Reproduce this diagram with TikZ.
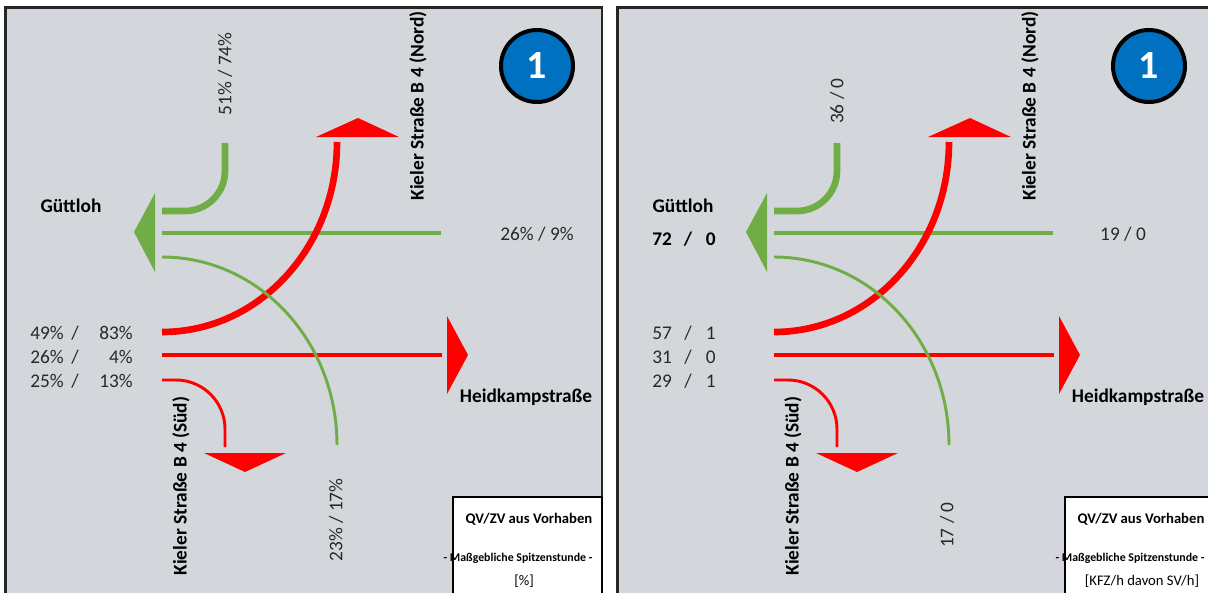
\documentclass[tikz,border=0pt]{standalone}
\usepackage{fontspec}
\setmainfont{Carlito}
\definecolor{panelgray}{RGB}{211,215,220}
\definecolor{flowgreen}{RGB}{112,173,71}
\definecolor{flowred}{RGB}{255,0,0}
\definecolor{numblue}{RGB}{0,112,192}
\definecolor{txtgray}{RGB}{40,40,40}
\tikzset{
	panel/.style={draw=black!85, line width=1.9pt, fill=panelgray},
	flowthick/.style={line width=5pt},
	flowmid/.style={line width=2.8pt},
	flowthin/.style={line width=2.2pt},
	lbl/.style={text=txtgray, inner sep=0pt, font=\fontsize{14.5}{17}\selectfont},
	roadname/.style={text=black, inner sep=0pt, font=\bfseries\fontsize{14.5}{17}\selectfont},
	numcirc/.style={circle, draw=black, line width=3pt, fill=numblue, minimum size=54pt,
		inner sep=0pt, text=white, font=\bfseries\fontsize{30}{30}\selectfont},
	legendbox/.style={draw=black, line width=1.5pt, fill=white},
	legtitle/.style={inner sep=0pt, font=\bfseries\fontsize{11}{13}\selectfont},
	legsub/.style={inner sep=0pt, font=\bfseries\fontsize{8.9}{11}\selectfont},
	legunit/.style={inner sep=0pt, font=\fontsize{11}{13}\selectfont}
}

\begin{document}
\begin{tikzpicture}[x=0.75pt, y=-0.75pt]
	
	\useasboundingbox (0,0) rectangle (1208,593);
	\clip (0,0) rectangle (1208,593);
	\fill[white] (0,0) rectangle (1208,593);
	
	% PANELS
	\draw[panel] (5.5,7.5) rectangle (602,600);
	\draw[panel] (617.5,7.5) rectangle (1225,600);
	
	% FLOWS, same in both panels
	\foreach \dx/\p in {0/L, 612/R}{
		\begin{scope}[shift={(\dx,0)}]
			% towards Güttloh
			\draw[flowgreen, flowmid] (162,233) -- (441,233);
			% from Güttloh
			\draw[flowred, flowthick] (162,332)
				.. controls (259,332) and (337,247) .. (337,142);
			\draw[flowred, flowmid] (162,355) -- (442,355);
			\draw[flowred, flowthin] (162,380) -- (176,380)
				.. controls (203,380) and (225,402) .. (225,429) -- (225,447);
			\draw[flowgreen, flowthin] (162,257)
				.. controls (259,257) and (337,341) .. (337,445);
			\draw[flowgreen, flowthick] (225,143) -- (225,171)
				.. controls (225,193) and (207,211) .. (185,211) -- (162,211);
			
			% Arrow heads
			\fill[flowgreen] (134,232) -- (155,193) -- (155,272) -- cycle;
			\fill[flowred] (358,118) -- (399,137) -- (316,137) -- cycle;
			\fill[flowred] (468,355) -- (447,394) -- (447,316) -- cycle;
			\fill[flowred] (245,472) -- (204,453) -- (286,453) -- cycle;
			
			% Node number
			\node[numcirc] (num\p) at (537,66) {1};
			
			% Road names
			\node[roadname] (west\p) at (71,206) {Güttloh};
			\node[roadname, rotate=90] (north\p) at (418,106) {Kieler Straße B 4 (Nord)};
			\node[roadname, rotate=90] (south\p) at (181,486) {Kieler Straße B 4 (Süd)};
			\node[roadname] (east\p) at (526,397) {Heidkampstraße};
			
			% Legend
			\draw[legendbox] (453,497) rectangle (602,600);
			\node[legtitle] (legT\p) at (529,519) {QV/ZV aus Vorhaben};
			\node[legsub] (legS\p) at (518,558) {- Maßgebliche Spitzenstunde -};
		\end{scope}
	}
	
	% VALUES in percent
	\node[lbl, rotate=90] (pctN) at (225,74) {51\% / 74\%};
	\node[lbl] (pctE) at (537,234) {26\% / 9\%};
	\node[lbl, rotate=90] (pctS) at (336,520) {23\% / 17\%};
	\foreach \y/\a/\b [count=\i] in {339/49/83, 363/26/4, 387/25/13}{
		\node[lbl, anchor=base west] (pctWa\i) at (30,\y) {\a\%};
		\node[lbl, anchor=base] (pctWs\i) at (75,\y) {/};
		\node[lbl, anchor=base east] (pctWb\i) at (133,\y) {\b\%};
	}
	\node[legunit] (unitL) at (524,581) {[\%]};
	
	% VALUES in KFZ/h
	\node[lbl, rotate=90] (kfzN) at (837,101) {36 / 0};
	\node[lbl] (kfzE) at (1123,234) {19 / 0};
	\node[lbl, rotate=90] (kfzS) at (947,525) {17 / 0};
	\node[roadname, anchor=base west] (kfzGa) at (652,245) {72};
	\node[roadname, anchor=base] (kfzGs) at (688,245) {/};
	\node[roadname, anchor=base east] (kfzGb) at (716,245) {0};
	\foreach \y/\a/\b [count=\i] in {339/57/1, 363/31/0, 387/29/1}{
		\node[lbl, anchor=base west] (kfzWa\i) at (652,\y) {\a};
		\node[lbl, anchor=base] (kfzWs\i) at (688,\y) {/};
		\node[lbl, anchor=base east] (kfzWb\i) at (716,\y) {\b};
	}
	\node[legunit] (unitR) at (1142,581) {[KFZ/h davon SV/h]};
	
\end{tikzpicture}
\end{document}
